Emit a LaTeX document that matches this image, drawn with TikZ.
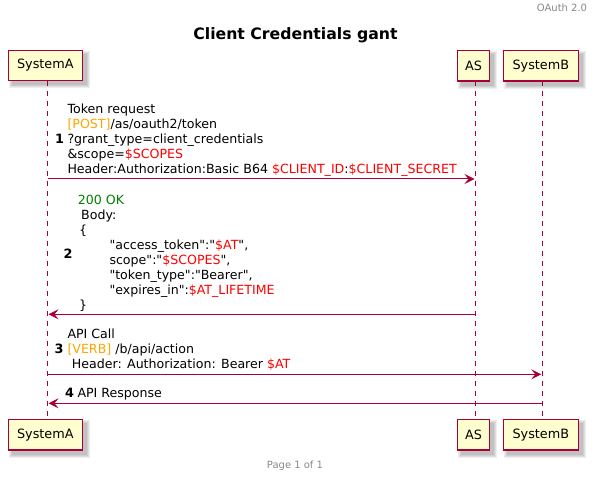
\documentclass[tikz,border=0pt]{standalone}
\usepackage{fontspec}
\setmainfont{DejaVu Sans}
\newfontfamily\djv{DejaVu Sans}
\usetikzlibrary{arrows.meta}
\definecolor{lifered}{HTML}{A80036}
\definecolor{partfill}{HTML}{FEFECE}
\definecolor{plred}{HTML}{FF0000}
\definecolor{plorange}{HTML}{FFA500}
\definecolor{plgreen}{HTML}{008000}
\definecolor{plgrey}{HTML}{888888}
\pgfdeclarelayer{bg}
\pgfsetlayers{bg,main}
\newcommand{\pshadow}[1]{%
  \begin{pgfonlayer}{bg}
  \foreach \d in {0,1,2,3}{%
    \fill[black,opacity=0.065] ([shift={(4-\d,4-\d)}]#1.north west) rectangle ([shift={(4+\d,4+\d)}]#1.south east);
  }
  \end{pgfonlayer}}
\begin{document}
\begin{tikzpicture}[x=1pt,y=-1pt,
  participant/.style={draw=lifered, line width=1.5pt, fill=partfill, minimum height=30.4pt, inner sep=0pt, font=\djv\fontsize{12.8}{15}\selectfont},
  lifeline/.style={draw=lifered, line width=1pt, dash pattern=on 5pt off 5pt},
  msg/.style={draw=lifered, line width=1pt, -{Stealth[length=10pt,width=10pt,inset=4pt]}, shorten >=1pt},
  txt/.style={anchor=base west, inner sep=0pt, font=\djv\fontsize{12.6}{15}\selectfont},
  num/.style={anchor=base west, inner sep=0pt, font=\djv\fontsize{12.8}{15}\selectfont\bfseries},
]
\useasboundingbox (0,0) rectangle (598,481);

% header, title, footer
\node[anchor=base east, inner sep=0pt, font=\djv\fontsize{10}{12}\selectfont, text=plgrey] (hdr) at (587.3,11.7) {OAuth 2.0};
\node[anchor=base, inner sep=0pt, font=\djv\fontsize{15.7}{18}\selectfont\bfseries] (title) at (295.5,39.5) {Client Credentials gant};
\node[anchor=base, inner sep=0pt, font=\djv\fontsize{10}{12}\selectfont, text=plgrey] (ftr) at (295,469) {Page 1 of 1};

% lifeline coordinates
\coordinate (la) at (47.5,81);   \coordinate (lae) at (47.5,419.5);
\coordinate (ls) at (475.5,81);  \coordinate (lse) at (475.5,419.5);
\coordinate (lb) at (542.3,81);  \coordinate (lbe) at (542.3,419.5);
\draw[lifeline] (la) -- (lae);
\draw[lifeline] (ls) -- (lse);
\draw[lifeline] (lb) -- (lbe);

% participants
\node[participant, minimum width=74pt] (pa1) at (45.3,65.5) {SystemA};
\node[participant, minimum width=32pt] (ps1) at (473.5,65.8) {AS};
\node[participant, minimum width=75pt] (pb1) at (540.8,65.8) {SystemB};
\node[participant, minimum width=74pt] (pa2) at (45.3,434.8) {SystemA};
\node[participant, minimum width=32pt] (ps2) at (473.5,434.8) {AS};
\node[participant, minimum width=75pt] (pb2) at (540.8,434.8) {SystemB};
\pshadow{pa1}\pshadow{ps1}\pshadow{pb1}\pshadow{pa2}\pshadow{ps2}\pshadow{pb2}

% message 1
\coordinate (m1s) at (47.5,179); \coordinate (m1t) at (475.5,179);
\draw[msg] (m1s) -- (m1t);
\node[num] (n1) at (55,144) {1};
\node[txt] (m1a) at (67.3,114) {Token request};
\node[txt] (m1b) at (67.3,129) {\textcolor{plorange}{[POST]}/as/oauth2/token};
\node[txt] (m1c) at (67.3,144) {?grant\_type=client\_credentials};
\node[txt] (m1d) at (67.3,159) {\&scope=\textcolor{plred}{\$SCOPES}};
\node[txt] (m1e) at (67.3,174) {Header:Authorization:Basic B64 \textcolor{plred}{\$CLIENT\_ID}:\textcolor{plred}{\$CLIENT\_SECRET}};

% message 2
\coordinate (m2s) at (475.5,314.3); \coordinate (m2t) at (47.5,314.3);
\draw[msg] (m2s) -- (m2t);
\node[num] (n2) at (63.3,258.7) {2};
\node[txt, text=plgreen] (m2a) at (77.7,204.7) {200 OK};
\node[txt] (m2b) at (81,219.7) {Body:};
\node[txt] (m2c) at (79,234.7) {\{};
\node[txt] (m2d) at (109.3,249.7) {"access\_token":"\textcolor{plred}{\$AT}",};
\node[txt] (m2e) at (109.3,264.7) {scope":"\textcolor{plred}{\$SCOPES}",};
\node[txt] (m2f) at (109.3,279.7) {"token\_type":"Bearer",};
\node[txt] (m2g) at (109.3,294.7) {"expires\_in":\textcolor{plred}{\$AT\_LIFETIME}};
\node[txt] (m2h) at (79,309.7) {\}};

% message 3
\coordinate (m3s) at (47.5,374.3); \coordinate (m3t) at (542.3,374.3);
\draw[msg] (m3s) -- (m3t);
\node[num] (n3) at (54.3,354) {3};
\node[txt] (m3a) at (67.3,339) {API Call};
\node[txt] (m3b) at (67.3,354) {\textcolor{plorange}{[VERB]} /b/api/action};
\node[txt] (m3c) at (71.7,369) {Header: Authorization: Bearer \textcolor{plred}{\$AT}};

% message 4
\coordinate (m4s) at (542.3,403.3); \coordinate (m4t) at (47.5,403.3);
\draw[msg] (m4s) -- (m4t);
\node[num] (n4) at (65,398) {4};
\node[txt] (m4a) at (77.3,398) {API Response};
\end{tikzpicture}
\end{document}
